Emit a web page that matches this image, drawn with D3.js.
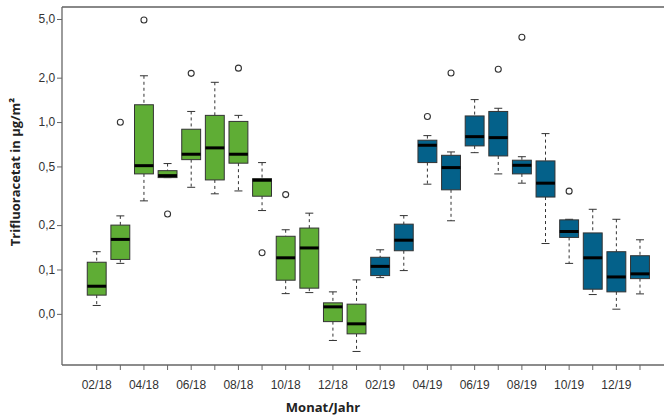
<!DOCTYPE html>
<html>
<head>
<meta charset="utf-8">
<script src="https://cdn.jsdelivr.net/npm/d3@7"></script>
<style>
  html, body { margin: 0; padding: 0; background: #fff; }
  svg { display: block; font-family: "Open Sans", "Liberation Sans", sans-serif; }
  .tick text { fill: #333; font-size: 12px; }
  .axis-title { fill: #222; font-size: 13px; font-weight: bold; }
</style>
</head>
<body>
<div id="chart"></div>
<script>
/* Trifluoracetat-Deposition je Monat, Boxplots (log-Skala) */
const months = ["02/18","03/18","04/18","05/18","06/18","07/18","08/18","09/18","10/18","11/18","12/18","01/19",
                "02/19","03/19","04/19","05/19","06/19","07/19","08/19","09/19","10/19","11/19","12/19","01/20"];
const whiskerLo = [0.057,0.110,0.292,0.420,0.361,0.326,0.341,0.251,0.0686,0.0697,0.0330,0.0278,
                   0.0881,0.0983,0.379,0.214,0.620,0.445,0.385,0.150,0.110,0.0676,0.0538,0.0683];
const q1        = [0.067,0.117,0.445,0.420,0.556,0.405,0.526,0.314,0.0846,0.0747,0.0443,0.0366,
                   0.0909,0.134,0.531,0.347,0.689,0.589,0.445,0.310,0.165,0.0735,0.0705,0.0867];
const median    = [0.077,0.160,0.506,0.433,0.605,0.668,0.605,0.403,0.120,0.140,0.0558,0.0428,
                   0.105,0.158,0.696,0.491,0.796,0.784,0.509,0.385,0.181,0.120,0.089,0.0934];
const q3        = [0.112,0.200,1.31,0.468,0.894,1.11,1.01,0.413,0.168,0.191,0.0594,0.0582,
                   0.121,0.203,0.753,0.595,1.10,1.18,0.551,0.545,0.217,0.177,0.132,0.124];
const whiskerHi = [0.132,0.231,2.06,0.523,1.18,1.86,1.11,0.531,0.186,0.241,0.0705,0.085,
                   0.136,0.232,0.809,0.627,1.42,1.24,0.582,0.835,0.219,0.256,0.219,0.159];
const outliers  = [["03/18",0.997],["04/18",4.92],["05/18",0.238],["06/18",2.14],["08/18",2.32],
                   ["09/18",0.130],["10/18",0.322],["04/19",1.09],["05/19",2.15],["07/19",2.28],
                   ["08/19",3.76],["10/19",0.340]];
const yTicks      = [0.05,0.1,0.2,0.5,1,2,5];
const yTickLabels = ["0,0","0,1","0,2","0,5","1,0","2,0","5,0"];
const yearColors  = { "18": "#5fad35", "19": "#04618a" };

const W = 664, H = 416;
const m = { left: 62, right: 0, top: 7, bottom: 51 };

const svg = d3.select("#chart").append("svg").attr("width", W).attr("height", H);

const x = d3.scaleBand().domain(months).range([84.9, 651.8]).paddingInner(0.2).paddingOuter(0.1);
const y = d3.scaleLog().domain([0.0225, 6.03]).range([H - m.bottom, m.top]);

const boxes = months.map((mo, i) => ({
  mo, lo: whiskerLo[i], q1: q1[i], med: median[i], q3: q3[i], hi: whiskerHi[i],
  // Farbe nach Messjahr (02/18–01/19 grün, ab 02/19 blau)
  color: i < 12 ? yearColors["18"] : yearColors["19"]
}));

// Achsenrahmen (links, unten, oben)
svg.append("line").attr("x1", m.left).attr("x2", W).attr("y1", m.top).attr("y2", m.top)
  .attr("stroke", "#888").attr("stroke-width", 2);

const gx = svg.append("g").attr("transform", `translate(0,${H - m.bottom})`)
  .call(d3.axisBottom(x).tickSizeOuter(0).tickSize(5)
    .tickFormat((d, i) => i % 2 === 0 ? d : ""));
gx.select(".domain").attr("d", `M${m.left},0H${W}`).attr("stroke", "#666").attr("stroke-width", 1.3);
gx.selectAll(".tick line").attr("stroke", "#666");
gx.selectAll(".tick text").attr("dy", "1.3em");

const gy = svg.append("g").attr("transform", `translate(${m.left},0)`)
  .call(d3.axisLeft(y).tickValues(yTicks).tickSize(5).tickSizeOuter(0)
    .tickFormat(d => yTickLabels[yTicks.indexOf(d)]));
gy.select(".domain").attr("d", `M0,${m.top}V${H - m.bottom}`).attr("stroke", "#666").attr("stroke-width", 1.3);
gy.selectAll(".tick line").attr("stroke", "#666");
gy.selectAll(".tick text").attr("dx", "0.1em");

const g = svg.append("g").selectAll("g").data(boxes).join("g")
  .attr("transform", d => `translate(${x(d.mo) + x.bandwidth() / 2},0)`);
const bw = x.bandwidth(), cap = 8;

// Whisker gestrichelt
g.append("line").attr("y1", d => y(d.hi)).attr("y2", d => y(d.q3))
  .attr("stroke", "#333").attr("stroke-dasharray", "3,3");
g.append("line").attr("y1", d => y(d.q1)).attr("y2", d => y(d.lo))
  .attr("stroke", "#333").attr("stroke-dasharray", "3,3");
g.append("line").attr("x1", -cap / 2).attr("x2", cap / 2).attr("y1", d => y(d.hi)).attr("y2", d => y(d.hi))
  .attr("stroke", "#333");
g.append("line").attr("x1", -cap / 2).attr("x2", cap / 2).attr("y1", d => y(d.lo)).attr("y2", d => y(d.lo))
  .attr("stroke", "#333");

g.append("rect").attr("x", -bw / 2).attr("width", bw)
  .attr("y", d => y(d.q3)).attr("height", d => y(d.q1) - y(d.q3))
  .attr("fill", d => d.color).attr("stroke", "#333").attr("stroke-width", 1);
g.append("line").attr("x1", -bw / 2).attr("x2", bw / 2)
  .attr("y1", d => y(d.med)).attr("y2", d => y(d.med))
  .attr("stroke", "#000").attr("stroke-width", 3);

svg.append("g").selectAll("circle").data(outliers).join("circle")
  .attr("cx", d => x(d[0]) + x.bandwidth() / 2).attr("cy", d => y(d[1])).attr("r", 3)
  .attr("fill", "none").attr("stroke", "#333").attr("stroke-width", 1.1);

svg.append("text").attr("class", "axis-title").attr("text-anchor", "middle")
  .attr("transform", "translate(20,172) rotate(-90)").text("Trifluoracetat in µg/m²");
svg.append("text").attr("class", "axis-title").attr("text-anchor", "middle")
  .attr("x", 323).attr("y", 412).text("Monat/Jahr");
</script>
</body>
</html>
